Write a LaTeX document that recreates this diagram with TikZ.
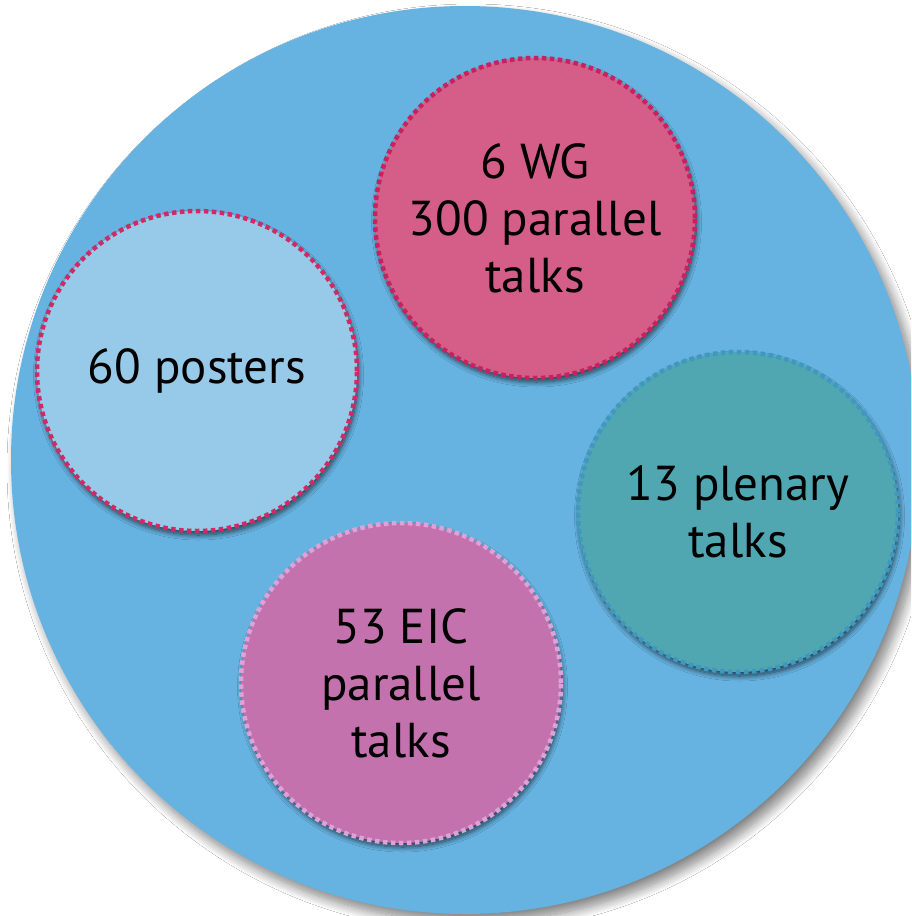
\documentclass[tikz,border=0pt]{standalone}
\usepackage{fontspec}
\setmainfont{PT Sans}
\usetikzlibrary{shadows.blur}
\definecolor{bigblue}{HTML}{66B2E0}
\definecolor{wgfill}{HTML}{D45E87}
\definecolor{wgline}{HTML}{C8215E}
\definecolor{postfill}{HTML}{97C9E8}
\definecolor{postline}{HTML}{D02A64}
\definecolor{plenfill}{HTML}{50A7B1}
\definecolor{plenline}{HTML}{3F98BF}
\definecolor{eicfill}{HTML}{C372AD}
\definecolor{eicline}{HTML}{DDA3D8}
\tikzset{
  bubble/.style={circle, minimum size=320pt, inner sep=0pt, align=center,
    line width=4.5pt, dash pattern=on 4.5pt off 3.5pt,
    font=\fontsize{49}{57}\selectfont, text=black,
    blur shadow={shadow xshift=1.5pt, shadow yshift=-4pt, shadow blur radius=5pt,
      shadow blur steps=12, shadow opacity=65}},
  bigdisc/.style={circle, minimum size=908pt, inner sep=0pt, fill=bigblue,
    blur shadow={shadow xshift=6pt, shadow yshift=-8pt, shadow blur radius=10pt,
      shadow blur steps=14, shadow opacity=50}}
}
\begin{document}
\begin{tikzpicture}[x=1pt,y=-1pt]
\path[use as bounding box, clip] (0,0) rectangle (911,916);
\fill[white] (0,0) rectangle (911,916);
\node[bigdisc] (big) at (465,460) {};
\node[bubble, fill=wgfill, draw=wgline] (wg) at (535,218) {6 WG\\300 parallel\\talks};
\node[bubble, fill=postfill, draw=postline] (post) at (197,371) {60 posters};
\node[bubble, fill=plenfill, draw=plenline] (plen) at (738,512) {13 plenary\\talks};
\node[bubble, fill=eicfill, draw=eicline] (eic) at (401,683) {53 EIC\\parallel\\talks};
\end{tikzpicture}
\end{document}
